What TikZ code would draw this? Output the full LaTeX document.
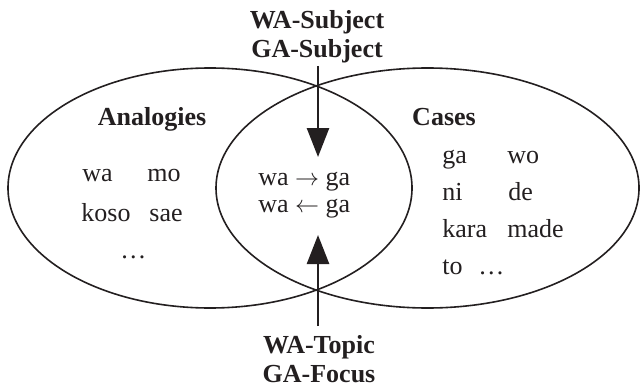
\documentclass[tikz,border=0pt]{standalone}
\usepackage{fontspec}
\setmainfont{Liberation Serif}
\usetikzlibrary{arrows.meta,shapes.geometric}
\definecolor{ink}{HTML}{231F20}

\begin{document}
\begin{tikzpicture}[x=0.5pt,y=0.5pt,
    set/.style={draw=ink,ellipse,line width=0.8pt,minimum height=120pt,inner sep=0pt},
    word/.style={anchor=base west,inner sep=0pt,text=ink,font=\fontsize{13}{15}\selectfont},
    title/.style={anchor=base,inner sep=0pt,text=ink,font=\fontsize{13}{15}\selectfont\bfseries},
    flow/.style={draw=ink,line width=1.3pt,-{Triangle[length=14.5pt,width=11pt]}}]
  \useasboundingbox (0,0) rectangle (640,386);
  % the two overlapping sets
  \node[set,minimum width=202pt] (analogset) at (210,198) {};
  \node[set,minimum width=211.5pt] (caseset) at (427.5,198) {};
  \node[title] (analog) at (152,261) {Analogies};
  \node[title] (cases) at (444,261) {Cases};
  % particles of the left set
  \node[word] (wa) at (82,205) {wa};
  \node[word] (mo) at (147,205) {mo};
  \node[word] (koso) at (81,165) {koso};
  \node[word] (sae) at (149,165) {sae};
  \node[word] (leftdots) at (120,128) {…};
  % shared part
  \node[word] (wago) at (258,201) {wa $\rightarrow$ ga};
  \node[word] (waback) at (258,174) {wa $\leftarrow$ ga};
  % particles of the right set
  \node[word] (ga) at (442,223) {ga};
  \node[word] (wo) at (507,223) {wo};
  \node[word] (ni) at (442,186) {ni};
  \node[word] (de) at (508,186) {de};
  \node[word] (kara) at (442,149) {kara};
  \node[word] (made) at (507,149) {made};
  \node[word] (to) at (442,112) {to};
  \node[word] (rightdots) at (478,112) {…};
  % labels above and below
  \node[title] (subjwa) at (317,357) {WA-Subject};
  \node[title] (subjga) at (317,328) {GA-Subject};
  \node[title] (topicwa) at (319,33) {WA-Topic};
  \node[title] (focusga) at (319,4) {GA-Focus};
  \coordinate (topstart) at (318,320);
  \coordinate (toptip) at (318,229);
  \coordinate (botstart) at (318,60);
  \coordinate (bottip) at (318,151);
  \draw[flow] (topstart) -- (toptip);
  \draw[flow] (botstart) -- (bottip);
\end{tikzpicture}
\end{document}
